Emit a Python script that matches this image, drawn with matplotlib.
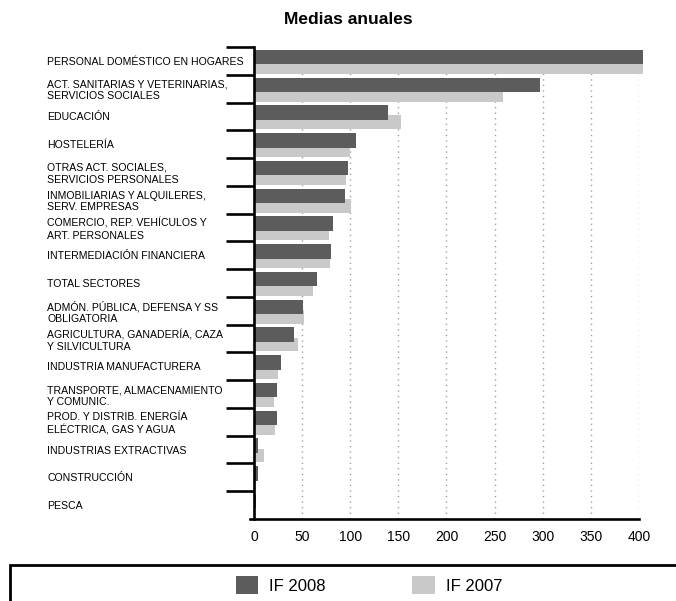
import matplotlib
matplotlib.use("Agg")
import matplotlib.pyplot as plt
from matplotlib.patches import Patch, Rectangle
import numpy as np

plt.rcParams['font.family'] = ['Liberation Sans', 'DejaVu Sans']

categories = [
    "PERSONAL DOMÉSTICO EN HOGARES",
    "ACT. SANITARIAS Y VETERINARIAS,\nSERVICIOS SOCIALES",
    "EDUCACIÓN",
    "HOSTELERÍA",
    "OTRAS ACT. SOCIALES,\nSERVICIOS PERSONALES",
    "INMOBILIARIAS Y ALQUILERES,\nSERV. EMPRESAS",
    "COMERCIO, REP. VEHÍCULOS Y\nART. PERSONALES",
    "INTERMEDIACIÓN FINANCIERA",
    "TOTAL SECTORES",
    "ADMÓN. PÚBLICA, DEFENSA Y SS\nOBLIGATORIA",
    "AGRICULTURA, GANADERÍA, CAZA\nY SILVICULTURA",
    "INDUSTRIA MANUFACTURERA",
    "TRANSPORTE, ALMACENAMIENTO\nY COMUNIC.",
    "PROD. Y DISTRIB. ENERGÍA\nELÉCTRICA, GAS Y AGUA",
    "INDUSTRIAS EXTRACTIVAS",
    "CONSTRUCCIÓN",
    "PESCA",
]
if_2008 = [404, 297.6, 139.6, 105.6, 98, 94.8, 82, 79.6, 65, 51, 42, 28.5, 24.4, 23.6, 3.9, 4.2, 2.5]
if_2007 = [404, 258.3, 152.5, 99.7, 96, 100.4, 78, 78.5, 61.5, 51.8, 45.8, 24.7, 21.2, 21.9, 10, 2, 1]
series_labels = ["IF 2008", "IF 2007"]
x_ticks = [0, 50, 100, 150, 200, 250, 300, 350, 400]

dark = "#5c5c5c"
light = "#c9c9c9"

W, H = 676, 601
fig = plt.figure(figsize=(W / 100, H / 100), dpi=100)
ax_left, ax_right, ax_top, ax_bottom = 254, 639, 47, 519
ax = fig.add_axes([ax_left / W, 1 - ax_bottom / H, (ax_right - ax_left) / W, (ax_bottom - ax_top) / H])

n = len(categories)
y = np.arange(n)
ax.barh(y + 0.215, if_2007, height=0.50, color=light, zorder=2, clip_on=False)
ax.barh(y - 0.14, if_2008, height=0.52, color=dark, zorder=3, clip_on=False)

ax.set_xlim(0, 400)
ax.set_ylim(n - 0.5, -0.5)

ax.set_xticks(x_ticks)
ax.set_xticklabels([str(t) for t in x_ticks])
ax.tick_params(axis='x', length=0, pad=8, labelsize=10)
ax.xaxis.grid(True, color="#a0a0a0", linestyle=(0, (1, 3)), linewidth=1, zorder=1)

# category boundaries as major ticks, labels on minor ticks
ax.set_yticks(np.arange(-0.5, n - 1, 1.0))
ax.set_yticklabels([])
ax.set_yticks(y, minor=True)
ax.set_yticklabels(categories, minor=True)
ax.tick_params(axis='y', which='major', direction='out', length=20, width=1.9, color='black')
ax.tick_params(axis='y', which='minor', length=0, pad=149, labelsize=7.6)
for lbl in ax.get_yticklabels(minor=True):
    lbl.set_horizontalalignment('left')
    lbl.set_linespacing(1.2)

for s in ['top', 'right']:
    ax.spines[s].set_visible(False)
for s in ['left', 'bottom']:
    ax.spines[s].set_linewidth(1.9)
ax.spines['bottom'].set_bounds(-4, 400)
ax.spines['bottom'].set_zorder(5)
ax.spines['left'].set_zorder(5)

fig.text(348 / W, 1 - 20 / H, "Medias anuales", ha='center', va='center',
         fontsize=12.5, fontweight='bold')

# legend
fig.add_artist(Rectangle((10 / W, -0.1), 1.0, 0.1 + 1 - 565 / H, transform=fig.transFigure,
                         fill=False, edgecolor='black', linewidth=2))
handles = [Patch(facecolor=dark, edgecolor='none'), Patch(facecolor=light, edgecolor='none')]
fig.legend(handles, series_labels, ncol=2, loc='center', bbox_to_anchor=(369 / W, 1 - 585 / H),
           frameon=False, fontsize=12, handlelength=1.35, handleheight=1.35,
           handletextpad=0.65, columnspacing=5.2, borderpad=0)

fig.savefig("out.png", dpi=100)
